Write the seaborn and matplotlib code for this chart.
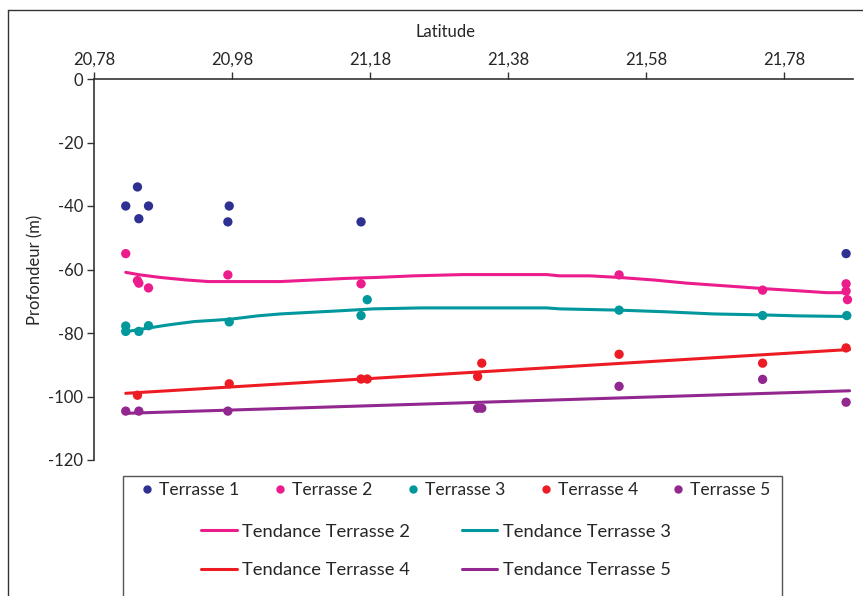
import matplotlib
matplotlib.use("Agg")
import matplotlib.pyplot as plt
from matplotlib.lines import Line2D
from matplotlib.patches import Rectangle
import seaborn as sns
import pandas as pd

# ---- data (latitude, depth in m) ----
t1_lat = [20.826, 20.843, 20.845, 20.859, 20.976, 20.974, 21.167, 21.870]
t1_dep = [-40, -34, -44, -40, -40, -45, -45, -55]

t2_lat = [20.826, 20.843, 20.845, 20.859, 20.974, 21.167, 21.541, 21.749, 21.870, 21.870, 21.872]
t2_dep = [-55, -63.5, -64.3, -65.8, -61.7, -64.5, -61.7, -66.5, -64.5, -66.8, -69.5]

t3_lat = [20.826, 20.826, 20.845, 20.859, 20.976, 21.176, 21.167, 21.541, 21.749, 21.871]
t3_dep = [-77.8, -79.5, -79.5, -77.7, -76.5, -69.5, -74.5, -72.8, -74.5, -74.5]

t4_lat = [20.843, 20.976, 21.167, 21.176, 21.336, 21.342, 21.541, 21.749, 21.870]
t4_dep = [-99.6, -96, -94.5, -94.5, -93.7, -89.5, -86.7, -89.5, -84.7]

t5_lat = [20.826, 20.845, 20.974, 21.336, 21.342, 21.541, 21.749, 21.870]
t5_dep = [-104.6, -104.6, -104.6, -103.7, -103.7, -96.8, -94.6, -101.8]

# trend lines
tr2_lat = [20.826, 20.847, 20.876, 20.914, 20.946, 21.050, 21.146, 21.190, 21.243, 21.315,
           21.436, 21.455, 21.499, 21.541, 21.591, 21.639, 21.711, 21.749, 21.793, 21.842, 21.871]
tr2_dep = [-60.9, -61.7, -62.5, -63.3, -63.8, -63.8, -62.8, -62.5, -62.0, -61.6,
           -61.6, -62.0, -62.0, -62.5, -63.3, -64.3, -65.4, -66.0, -66.6, -67.3, -67.3]

tr3_lat = [20.826, 20.857, 20.886, 20.925, 20.976, 21.017, 21.050, 21.093, 21.137, 21.185,
           21.253, 21.436, 21.455, 21.541, 21.606, 21.678, 21.749, 21.799, 21.871]
tr3_dep = [-79.6, -78.5, -77.5, -76.4, -75.7, -74.6, -74.0, -73.5, -73.0, -72.4,
           -72.1, -72.1, -72.4, -72.8, -73.3, -74.0, -74.3, -74.6, -74.8]

tr4_lat = [20.826, 21.875]
tr4_dep = [-99.0, -85.2]

tr5_lat = [20.826, 21.875]
tr5_dep = [-105.3, -98.2]

x_ticks = [20.78, 20.98, 21.18, 21.38, 21.58, 21.78]
x_ticklabels = ["20,78", "20,98", "21,18", "21,38", "21,58", "21,78"]
y_ticks = [0, -20, -40, -60, -80, -100, -120]
y_ticklabels = ["0", "-20", "-40", "-60", "-80", "-100", "-120"]

c1, c2, c3, c4, c5 = "#2E3192", "#EC1C8C", "#00979D", "#ED1C24", "#92278F"

sns.set_theme(style="white")
plt.rcParams["font.family"] = ["Lato", "DejaVu Sans"]

fig = plt.figure(figsize=(8.63, 5.96), dpi=100)
ax = fig.add_axes([94 / 863, 1 - 460 / 596, (853 - 94) / 863, (460 - 79) / 596])

pts = pd.concat([
    pd.DataFrame({"lat": t1_lat, "dep": t1_dep, "serie": "Terrasse 1"}),
    pd.DataFrame({"lat": t2_lat, "dep": t2_dep, "serie": "Terrasse 2"}),
    pd.DataFrame({"lat": t3_lat, "dep": t3_dep, "serie": "Terrasse 3"}),
    pd.DataFrame({"lat": t4_lat, "dep": t4_dep, "serie": "Terrasse 4"}),
    pd.DataFrame({"lat": t5_lat, "dep": t5_dep, "serie": "Terrasse 5"}),
])
trends = pd.concat([
    pd.DataFrame({"lat": tr2_lat, "dep": tr2_dep, "serie": "Tendance Terrasse 2"}),
    pd.DataFrame({"lat": tr3_lat, "dep": tr3_dep, "serie": "Tendance Terrasse 3"}),
    pd.DataFrame({"lat": tr4_lat, "dep": tr4_dep, "serie": "Tendance Terrasse 4"}),
    pd.DataFrame({"lat": tr5_lat, "dep": tr5_dep, "serie": "Tendance Terrasse 5"}),
])

tr_pal = {"Tendance Terrasse 2": c2, "Tendance Terrasse 3": c3,
          "Tendance Terrasse 4": c4, "Tendance Terrasse 5": c5}
pt_pal = {"Terrasse 1": c1, "Terrasse 2": c2, "Terrasse 3": c3,
          "Terrasse 4": c4, "Terrasse 5": c5}

sns.lineplot(data=trends, x="lat", y="dep", hue="serie", palette=tr_pal,
             linewidth=2.2, sort=False, estimator=None, legend=False, ax=ax, zorder=2)
sns.scatterplot(data=pts, x="lat", y="dep", hue="serie", palette=pt_pal,
                s=45, edgecolor="none", legend=False, ax=ax, zorder=3)

ax.set_xlim(20.78, 21.88)
ax.set_ylim(-120, 0)
ax.xaxis.tick_top()
ax.xaxis.set_label_position("top")
ax.set_xticks(x_ticks)
ax.set_xticklabels(x_ticklabels)
ax.set_yticks(y_ticks)
ax.set_yticklabels(y_ticklabels)
ax.tick_params(axis="x", top=True, bottom=False, direction="out", length=5,
               width=1, color="#333333", labelsize=12, pad=3)
ax.tick_params(axis="y", left=True, direction="out", length=5, width=1,
               color="#333333", labelsize=12, pad=3)
ax.set_xlabel("Latitude", fontsize=12)
ax.xaxis.set_label_coords((445 - 94) / 759, 1.11)
ax.set_ylabel("Profondeur (m)", fontsize=12)
ax.yaxis.set_label_coords(-0.066, 0.5)
for side in ["bottom", "right"]:
    ax.spines[side].set_visible(False)
for side in ["top", "left"]:
    ax.spines[side].set_color("#333333")
    ax.spines[side].set_linewidth(1.2)
ax.set_facecolor("white")
ax.grid(False)

# legend box
fig.add_artist(Rectangle((123 / 863, -0.01), (782 - 123) / 863, (596 - 476) / 596 + 0.01,
                         transform=fig.transFigure, facecolor="none",
                         edgecolor="#555555", linewidth=1))

pt_handles = [Line2D([], [], marker="o", linestyle="none", markersize=5,
                     color=pt_pal[k]) for k in pt_pal]
leg1 = fig.legend(pt_handles, list(pt_pal.keys()), loc="center left",
                  bbox_to_anchor=(140 / 863, 1 - 490 / 596), ncol=5, frameon=False,
                  fontsize=12.6, handlelength=0.8, handletextpad=0.3, columnspacing=1.9,
                  borderpad=0, borderaxespad=0)
order = ["Tendance Terrasse 2", "Tendance Terrasse 4", "Tendance Terrasse 3", "Tendance Terrasse 5"]
ln_handles = [Line2D([], [], color=tr_pal[k], linewidth=2.2) for k in order]
leg2 = fig.legend(ln_handles, order, loc="center left",
                  bbox_to_anchor=(201 / 863, 1 - 551 / 596), ncol=2, frameon=False,
                  fontsize=13.2, handlelength=1.95, handletextpad=0.3, columnspacing=2.8,
                  labelspacing=1.22, borderpad=0, borderaxespad=0)

# outer frame lines
fig.add_artist(Line2D([8 / 863, 8 / 863], [0, 1 - 10 / 596], transform=fig.transFigure,
                      color="#333333", linewidth=1))
fig.add_artist(Line2D([8 / 863, 1], [1 - 10 / 596, 1 - 10 / 596], transform=fig.transFigure,
                      color="#333333", linewidth=1))

fig.savefig("out.png", dpi=100, facecolor="white")
